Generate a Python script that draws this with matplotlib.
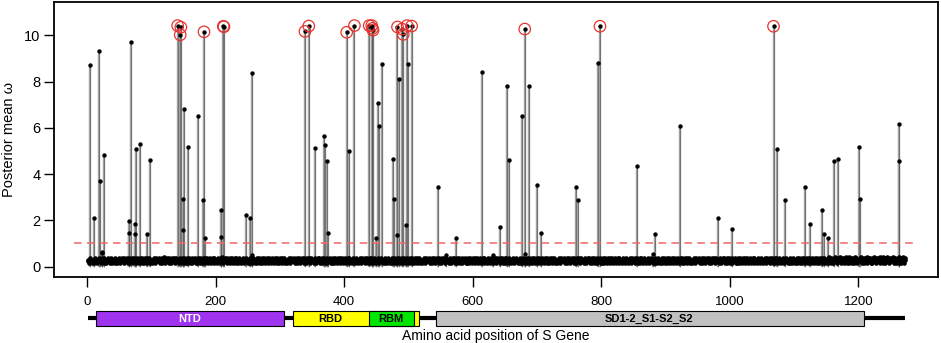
import numpy as np
import matplotlib
matplotlib.use('Agg')
import matplotlib.pyplot as plt
from matplotlib.patches import Rectangle
from matplotlib import font_manager

# ---- data -------------------------------------------------------------
n_sites = 1273

# background posterior mean per site, coded 0.05 + 0.06*digit
baseline_codes = """
3423534243 2354324534 3245325432 4353243524 3425342354 2435342534 3524352435 4253423543 2534253425 3452435243
2435324534 3524352436 4235342534 2534352453 3425342354 5243524352 3425343524 2534253425 4352435243 3524352534
4235342536 2435342534 3524352435 2534253423 4352435342 3425342534 2435243524 3524352435 4253423543 2534253425
3452435243 2435324534 3524352435 4235342534 2534352453 3425342354 5243524352 3425343524 2534253425 4352435243
3524352534 4235342534 2435342534 3524352435 2534253423 4352435342 3425342534 2435243524 3524352435 4253423543
2534253425 3452435243 2435324534 3524352435 4235342534 2534352453 3425342354 5243524352 3425343524 2534253425
4352435243 3524352534 4235342534 2435342534 3524352435 2534253423 4352435342 3425342534 2435243524 3524352435
4253423543 2534253425 3452435243 2435324534 3524352435 4235342534 2534352453 3425342354 5243524352 3425343524
2534253425 4352435243 3524352534 4235342534 2435342534 3524352435 2534253423 4352435342 3425342534 2435243524
3524352435 4253423543 2534253425 3452435243 2435324534 3524352435 4235342534 2534352453 3425342354 5243524352
3425343524 2534253425 4352435243 3524352534 4235342534 2435342534 3524352435 2534253423 4352435342 3425342534
2435243524 3524352435 4253423543 2534253425 3452435243 3526435243 2536452435 3625342536 4253624352 3526435243
4536243524 3526453524 2536435245 3526435264 2536452435 3546235243 4526352436 2546352435
"""

spike_pos = [4, 11, 18, 20, 23, 24, 26, 65, 65, 68, 74, 74, 76, 82, 94, 98,
             141, 145, 146, 149, 150, 151, 157, 172, 181, 182, 184, 208, 209,
             212, 213, 247, 253, 256, 256, 339, 345, 355, 368, 370, 373, 375,
             404, 407, 416, 439, 443, 444, 445, 449, 452, 455, 459, 476, 478,
             483, 483, 485, 490, 492, 496, 498, 500, 505, 546, 559, 574, 614,
             632, 643, 653, 657, 676, 681, 682, 688, 700, 706, 760, 764, 795,
             798, 856, 880, 883, 922, 981, 1003, 1068, 1073, 1086, 1117, 1124,
             1143, 1146, 1153, 1162, 1168, 1201, 1202, 1263, 1264]
spike_val = [8.73, 2.12, 9.31, 3.70, 0.62, 0.58, 4.82, 1.98, 1.45, 9.70, 1.85, 1.40, 5.08, 5.28, 1.40, 4.60,
             10.42, 10.02, 10.35, 2.92, 1.58, 6.80, 5.15, 6.49, 2.87, 10.15, 1.23, 2.44, 1.27,
             10.39, 10.37, 2.22, 2.11, 8.38, 0.50, 10.17, 10.40, 5.11, 5.63, 5.24, 4.58, 1.45,
             10.13, 5.01, 10.42, 10.42, 10.42, 10.30, 10.22, 1.23, 7.09, 6.09, 8.76, 4.63, 2.92,
             1.37, 10.36, 8.13, 10.27, 10.04, 1.81, 10.42, 8.76, 10.40, 3.45, 0.51, 1.24, 8.40,
             0.50, 1.69, 7.81, 4.60, 6.49, 10.27, 0.55, 7.81, 3.52, 1.46, 3.46, 2.87, 8.82,
             10.39, 4.33, 0.55, 1.42, 6.09, 2.08, 1.62, 10.39, 5.08, 2.87, 3.46, 1.85,
             2.44, 1.39, 1.24, 4.58, 4.65, 5.18, 2.93, 4.58, 6.18]

domain_names = ['NTD', 'RBD', 'RBM', 'SD1-2_S1-S2_S2']
domain_start = [14, 320, 438, 543]
domain_end = [306, 516, 509, 1208]
domain_label_x = [160, 379, 473, 875]
domain_colors = ['#a033f0', '#ffff00', '#00e600', '#c0c0c0']
domain_text_colors = ['white', 'black', 'black', 'black']

xticks = [0, 200, 400, 600, 800, 1000, 1200]
yticks = [0, 2, 4, 6, 8, 10]
threshold = 1.0
highlight_min = 10.0

# ---- fonts ------------------------------------------------------------
installed = {f.name for f in font_manager.fontManager.ttflist}
main_font = 'Liberation Sans' if 'Liberation Sans' in installed else 'DejaVu Sans'
narrow_font = 'Liberation Sans Narrow' if 'Liberation Sans Narrow' in installed else main_font
plt.rcParams['font.family'] = [main_font, 'DejaVu Sans']

codes = "".join(baseline_codes.split())[:n_sites]
sites = np.arange(1, n_sites + 1)
base_val = 0.05 + 0.06 * np.array([int(c) for c in codes])
spike_pos = np.array(spike_pos)
spike_val = np.array(spike_val)

# ---- figure -----------------------------------------------------------
fig = plt.figure(figsize=(9.41, 3.43), dpi=100)
ax = fig.add_axes([54.3 / 941, 66.3 / 343, (938 - 54.3) / 941, (341 - 66.3) / 343])

ax.vlines(spike_pos, 0, spike_val, color='#a0a0a0', lw=1.7, zorder=1)
ax.vlines(spike_pos, 0, spike_val, color='#505050', lw=0.4, zorder=1.5)
ax.scatter(sites, base_val, s=11, color='black', lw=0, zorder=3)
ax.scatter(spike_pos, spike_val, s=10, color='black', lw=0, zorder=3)
hi = spike_val > highlight_min
ax.scatter(spike_pos[hi], spike_val[hi], s=68, facecolors='none',
           edgecolors='#e8342f', lw=0.9, zorder=4)
ax.hlines(threshold, -20, 1293, colors='#f46464', linestyles=(0, (5, 3.5)),
          lw=1.1, zorder=2)

ax.set_xlim(-50.9, 1323.9)
ax.set_ylim(-0.44, 11.44)
ax.set_xticks(xticks)
ax.set_yticks(yticks)
ax.tick_params(axis='x', length=7, width=1, pad=7, labelsize=9.5)
ax.tick_params(axis='y', length=7, width=1, pad=3, labelsize=10.5)
for lab in ax.get_xticklabels():
    lab.set_fontfamily(narrow_font)
for s in ax.spines.values():
    s.set_linewidth(1.3)
ax.set_ylabel('Posterior mean ω', fontsize=10.5, labelpad=6)

# ---- domain map -------------------------------------------------------
ax2 = fig.add_axes([54.3 / 941, 13 / 343, (938 - 54.3) / 941, 23 / 343])
ax2.set_xlim(ax.get_xlim())
ax2.set_ylim(0, 1)
ax2.axis('off')
ax2.plot([1, n_sites], [0.52, 0.52], color='black', lw=3, solid_capstyle='butt', zorder=1)
for name, x0, x1, lx, c, tc in zip(domain_names, domain_start, domain_end,
                                   domain_label_x, domain_colors, domain_text_colors):
    ax2.add_patch(Rectangle((x0, 0.17), x1 - x0, 0.66, facecolor=c,
                            edgecolor='black', lw=0.8, zorder=2))
    ax2.text(lx, 0.5, name, ha='center', va='center', fontsize=8,
             fontweight='bold', color=tc, family=narrow_font, zorder=3)

fig.text(496 / 941, 7 / 343, 'Amino acid position of S Gene', ha='center',
         va='center', fontsize=10, family=narrow_font)

fig.savefig('out.png', dpi=100)
